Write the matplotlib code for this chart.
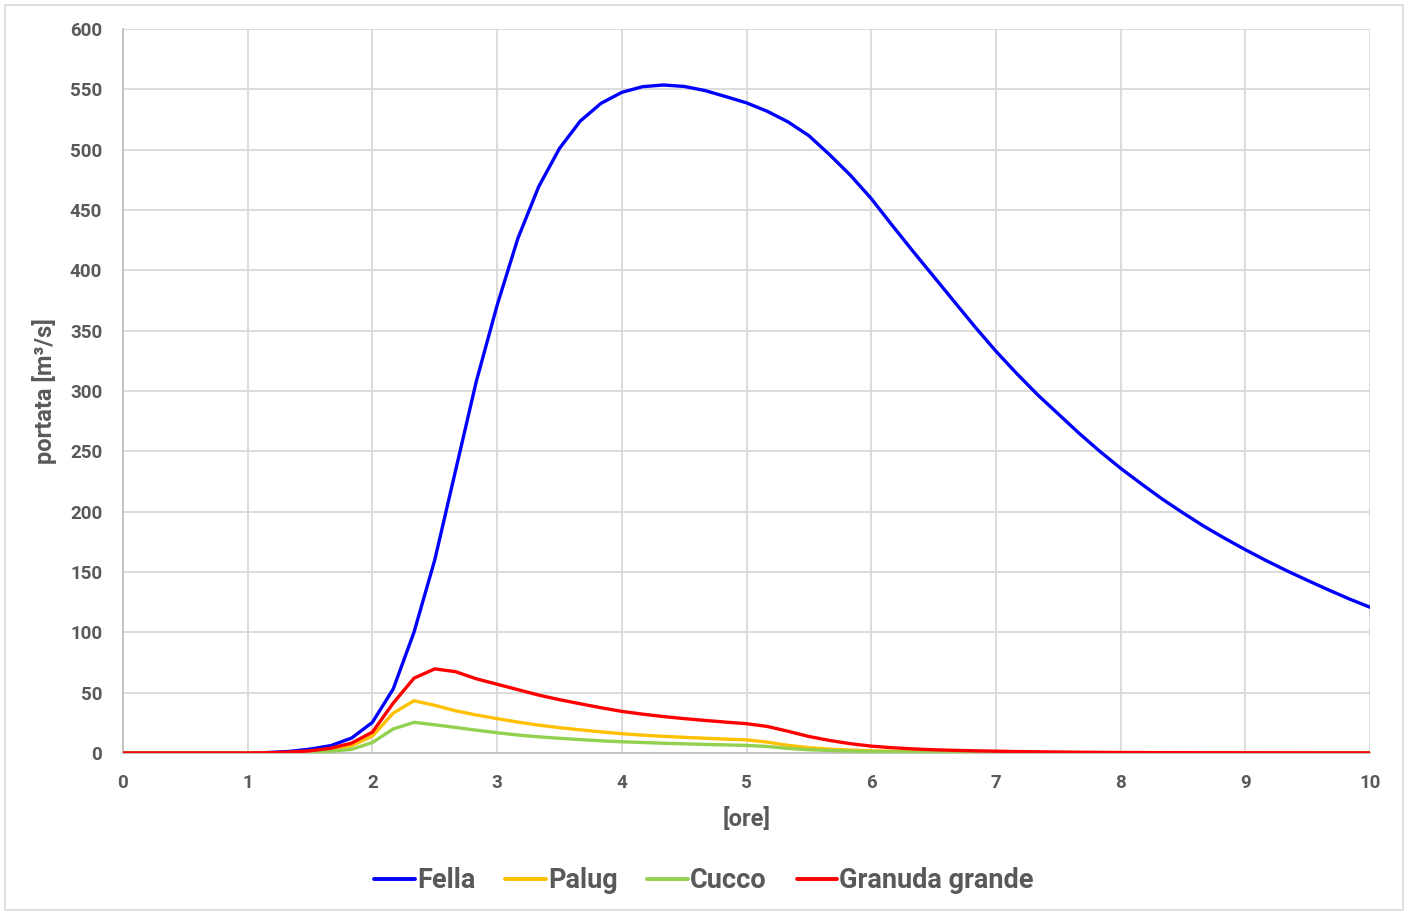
import numpy as np
import matplotlib
matplotlib.use("Agg")
import matplotlib.pyplot as plt
from matplotlib.patches import Rectangle

plt.rcParams['font.family'] = ['Roboto', 'DejaVu Sans']

# time axis in hours, 10-minute steps
minuti = np.arange(0, 601, 10)
ore = minuti / 60.0

fella = [0, 0, 0, 0, 0, 0, 0, 0.4, 1.3, 3.2, 6.1, 12.4, 25.4, 53, 100, 160, 234, 308,
         371, 426.5, 469.3, 501, 523.7, 538.4, 547.5, 552.2, 553.6, 552.4, 549, 544,
         538.8, 531.8, 523, 511.6, 495.8, 478.8, 459.5, 437.5, 416, 395, 374, 353,
         333, 314.5, 297, 281, 265, 250, 236, 223, 210.5, 199, 188, 178, 168.5, 159.5,
         151, 143, 135.2, 127.7, 120.8]

palug = [0, 0, 0, 0, 0, 0, 0, 0.1, 0.4, 1.2, 2.8, 6, 14, 33, 43.3, 39.5, 35, 31.5,
         28.5, 25.6, 23.1, 21, 19.2, 17.5, 16, 14.8, 13.8, 13, 12.2, 11.5, 10.9, 9,
         6.3, 4.4, 3.2, 2.4, 1.8, 1.4, 1.1, 0.9, 0.7, 0.55, 0.45, 0.35, 0.3, 0.25,
         0.2, 0.17, 0.15, 0.12, 0.1, 0.1, 0.08, 0.07, 0.06, 0.05, 0.05, 0.04, 0.04,
         0.03, 0.03]

cucco = [0, 0, 0, 0, 0, 0, 0, 0.05, 0.2, 0.6, 1.4, 3, 8.7, 19.9, 25.4, 23.4, 21.2,
         18.9, 16.8, 14.9, 13.4, 12.2, 11.1, 10.1, 9.3, 8.7, 8.1, 7.6, 7.1, 6.7, 6.3,
         5.4, 3.8, 2.7, 2.1, 1.6, 1.2, 0.9, 0.7, 0.55, 0.45, 0.35, 0.3, 0.25, 0.2,
         0.17, 0.14, 0.12, 0.1, 0.08, 0.07, 0.06, 0.05, 0.04, 0.04, 0.03, 0.03, 0.03,
         0.02, 0.02, 0.02]

granuda = [0, 0, 0, 0, 0, 0, 0, 0.2, 0.7, 1.8, 4, 8.2, 17.3, 41.3, 62, 69.7, 67.4,
           61.5, 57, 52.5, 48, 44.2, 40.8, 37.5, 34.5, 32.2, 30.2, 28.5, 27, 25.6,
           24.3, 22, 18, 13.7, 10.4, 7.7, 5.7, 4.4, 3.4, 2.7, 2.2, 1.8, 1.5, 1.2, 1.0,
           0.8, 0.65, 0.5, 0.4, 0.35, 0.3, 0.25, 0.2, 0.18, 0.15, 0.13, 0.12, 0.1,
           0.1, 0.1, 0.1]

serie = [("Fella", fella, "#0000FF"),
         ("Palug", palug, "#FFC000"),
         ("Cucco", cucco, "#92D050"),
         ("Granuda grande", granuda, "#FF0000")]

x_ticks = list(range(0, 11))
y_ticks = list(range(0, 601, 50))

testo = "#595959"
griglia = "#D9D9D9"

fig = plt.figure(figsize=(14.08, 9.14), dpi=100)
ax = fig.add_axes([123 / 1408, 1 - 753 / 914, (1370 - 123) / 1408, (753 - 29) / 914])

for nome, valori, colore in serie:
    ax.plot(ore, valori, color=colore, lw=2.4, label=nome,
            solid_joinstyle='round', solid_capstyle='round', zorder=3)

ax.set_xlim(0, 10)
ax.set_ylim(0, 600)
ax.set_xticks(x_ticks)
ax.set_yticks(y_ticks)
ax.grid(True, color=griglia, lw=1.3, zorder=0)
ax.set_axisbelow(True)

for s in ("top", "right"):
    ax.spines[s].set_visible(False)
for s in ("left", "bottom"):
    ax.spines[s].set_color("#BFBFBF")
    ax.spines[s].set_linewidth(1.3)

ax.tick_params(axis='both', length=0, labelsize=13.5, labelcolor=testo)
ax.tick_params(axis='y', pad=15)
ax.tick_params(axis='x', pad=15)
for lab in ax.get_xticklabels() + ax.get_yticklabels():
    lab.set_fontweight('bold')

ax.set_xlabel("[ore]", fontsize=17, fontweight='bold', color=testo, labelpad=11)
ax.set_ylabel("portata [m³/s]", fontsize=17, fontweight='bold', color=testo, labelpad=9)

leg = fig.legend(loc='center', bbox_to_anchor=(0.5, 1 - 881 / 914), ncol=4,
                 frameon=False, fontsize=19.5, handlelength=1.5, handletextpad=0.08,
                 columnspacing=1.1)
for t in leg.get_texts():
    t.set_color(testo)
    t.set_fontweight('bold')
for h in leg.get_lines():
    h.set_linewidth(2.8)

fig.patches.append(Rectangle((5 / 1408, 4 / 914), 1398 / 1408, 905 / 914,
                             transform=fig.transFigure, fill=False,
                             edgecolor="#D9D9D9", lw=1.2))

fig.savefig("out.png", dpi=100)
